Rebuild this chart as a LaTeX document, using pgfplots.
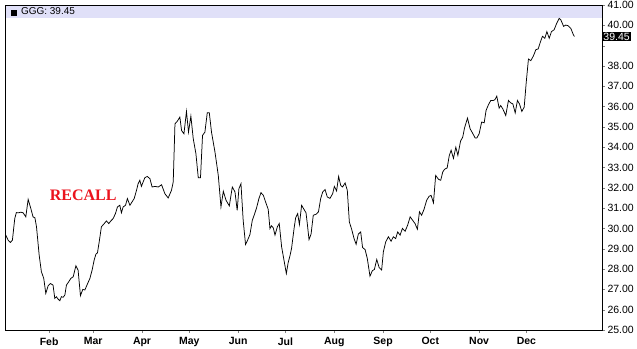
\documentclass[border=0pt]{standalone}
\usepackage{fontspec}
\setmainfont{Liberation Sans}
\newfontfamily\serifbold{Liberation Serif}
\usepackage{pgfplots}
\pgfplotsset{compat=1.18}
\definecolor{band}{RGB}{224,224,248}
\definecolor{recallred}{RGB}{235,20,30}
\begin{document}
\begin{tikzpicture}
\useasboundingbox (0,0) rectangle (637pt,348pt);
\begin{axis}[
  at={(5pt,18pt)}, anchor=south west,
  scale only axis, width=597pt, height=325pt,
  xmin=3, xmax=382, ymin=25, ymax=41,
  axis line style={black, line width=0.8pt},
  tick align=outside, major tick length=3pt,
  xtick pos=bottom, ytick pos=right,
  yticklabel pos=right,
  xtick={31,59,90,120,151,181,212,243,273,304,334},
  xticklabels={Feb,Mar,Apr,May,Jun,Jul,Aug,Sep,Oct,Nov,Dec},
  xticklabel style={font=\fontsize{10.5}{12}\selectfont\bfseries, yshift=-1pt},
  ytick={25,26,...,41},
  yticklabels={25.00,26.00,27.00,28.00,29.00,30.00,31.00,32.00,33.00,34.00,35.00,36.00,37.00,38.00,,40.00,41.00},
  yticklabel style={font=\fontsize{10.5}{12}\selectfont, anchor=west, xshift=-1pt},
  extra y ticks={39.45},
  extra y tick labels={39.45},
  extra y tick style={major tick length=0pt, yticklabel style={fill=black, text=white, inner sep=1.2pt, font=\fontsize{10.5}{12}\selectfont, anchor=west, xshift=1pt}},
  /pgf/number format/assume math mode=true,
  clip=false,
]
\fill[band] (rel axis cs:0,0.9615) rectangle (rel axis cs:1,1);
\draw[black, line width=0.8pt] (rel axis cs:0,0) rectangle (rel axis cs:1,1);
\fill[black] (rel axis cs:0.0095,0.9665) rectangle (rel axis cs:0.0195,0.9850);
\node[anchor=west, inner sep=0pt, font=\fontsize{10}{12}\selectfont] at (rel axis cs:0.0265,0.9800) {GGG: 39.45};
\node[font=\fontsize{16}{18}\serifbold\bfseries, text=recallred, inner sep=0pt] at (axis cs:52.6,31.62) {RECALL};
\addplot[black, line width=0.75pt, mark=none] coordinates {
(3.5,29.67) (5,29.42) (6.4,29.31) (7.7,29.42) (9.2,30.49) (10.2,30.78) (11.7,30.77) (13,30.8) (14.5,30.77) (16.2,30.57)
(17.7,31.43) (19.4,30.98) (20.8,30.57) (22,30.52) (23,30.08) (24.7,28.68) (26.1,27.87) (27.6,27.54) (28.9,26.8) (30.4,27.18)
(31.8,27.29) (33.5,27.21) (34.6,26.56) (35.6,26.64) (36.7,26.52) (37.8,26.44) (38.8,26.64) (39.9,26.61) (41,26.72) (42,27.21)
(43.5,27.38) (44.8,27.54) (46.3,27.62) (48,28.16) (49.4,27.95) (50.9,26.69) (52.4,27.0) (53.7,26.97) (55.3,27.26) (56.9,27.54)
(58.3,27.95) (59.6,28.44) (60.7,28.73) (61.7,28.8) (62.8,29.34) (64.2,30.08) (66,30.24) (67.4,30.37) (68.9,30.24) (70.2,30.37)
(71.7,30.49) (73.1,30.73) (74.4,31.06) (75.9,31.14) (76.9,30.77) (78,31.06) (79.5,31.14) (80.7,31.47) (82.3,31.14) (83.7,31.31)
(85,31.47) (86.5,31.88) (87.5,32.2) (88.6,32.37) (89.6,32.07) (90.7,32.29) (91.8,32.5) (93.3,32.56) (95,32.45) (96.4,32.04)
(98.2,32.07) (100.3,32.04) (102.4,32.15) (104.5,31.71) (106.6,31.5) (108.7,31.88) (109.8,32.29) (110.9,35.15) (112.3,35.27) (114,35.48)
(115.1,34.82) (116.6,34.66) (118.2,35.76) (119.5,34.74) (121,35.53) (122.5,34.42) (124.2,33.68) (125.7,32.49) (127.1,32.49) (128.4,34.58)
(129.9,34.74) (131.4,35.69) (132.7,35.69) (134.1,34.74) (136.3,33.76) (138.4,32.61) (140.1,31.06) (141.6,31.83) (143.3,31.39) (145.4,31.11)
(147.3,32.04) (149,31.8) (150.4,30.89) (151.5,31.96) (152.8,32.2) (154.2,30.4) (155.7,29.21) (157,29.42) (158.5,29.7) (160,30.4)
(161.3,30.68) (162.7,31.01) (164.2,31.47) (165.5,31.76) (167,31.63) (168.4,31.31) (170.1,30.94) (171.2,29.99) (172.2,30.13) (173.3,30.03)
(174.4,29.67) (175.9,30.08) (177.1,30.24) (178.6,29.1) (180.1,28.44) (181.6,27.78) (182.8,28.33) (183.9,28.65) (184.9,29.01) (186.5,29.99)
(187.5,30.52) (188.8,30.73) (189.9,30.19) (191.3,31.14) (192.8,30.94) (194.1,30.77) (194.9,30.24) (196,29.45) (197.3,29.72) (198.7,30.65)
(200.5,30.7) (202,30.82) (203.4,31.47) (204.7,31.8) (206.2,31.91) (207.6,31.55) (209.3,31.48) (211,31.71) (212.1,32.07) (213.5,31.85)
(214.8,32.56) (216.1,32.12) (217.3,32.04) (218.9,32.24) (220.3,31.88) (221.6,30.32) (223.1,29.95) (224.6,29.5) (225.9,29.22) (227.3,29.72)
(228.8,29.83) (230,29.06) (231.6,28.96) (233,28.52) (234.7,27.65) (236.2,27.92) (237.5,27.98) (239,28.47) (240.5,28.08) (242.1,27.95)
(243.2,28.85) (244.7,29.34) (246.4,29.59) (248.1,29.37) (249.5,29.59) (251,29.5) (252.3,29.83) (253.8,29.67) (255.3,30.0) (257,29.86)
(258.6,30.16) (260.2,30.57) (261.8,30.4) (263.3,30.24) (264.8,29.96) (266.1,30.82) (267.5,30.65) (269,30.94) (270.7,31.39) (272.2,31.58)
(273.5,31.63) (275,31.26) (276.4,32.61) (278.2,32.42) (279.6,32.37) (280.9,32.78) (282,32.91) (283.7,32.98) (285,33.57) (286.2,33.85)
(287.7,33.45) (289.2,34.0) (290.5,33.6) (292.2,34.3) (293.6,34.5) (294.7,34.94) (296.6,35.43) (298.3,34.9) (299.7,34.71) (301.5,34.45)
(302.5,34.45) (304,34.66) (305.6,35.24) (307.2,35.2) (308.4,35.81) (309.9,36.09) (311.4,36.3) (313.1,36.3) (314.1,36.35) (315.2,36.51)
(316.7,35.92) (317.7,36.05) (319,35.89) (320.9,35.56) (322.6,36.3) (324.1,36.18) (325.4,36.13) (326.9,35.69) (328.3,36.3) (329.6,36.13)
(331.1,35.76) (332.6,35.97) (333.9,37.2) (335.3,38.34) (336.8,38.26) (338.5,38.5) (340,38.8) (341.5,38.84) (342.8,39.16) (344.2,39.46)
(345.7,39.36) (347,39.69) (348.5,39.36) (349.9,39.69) (351.6,39.78) (353.3,40.11) (354.8,40.34) (355.8,40.28) (357.6,39.95) (359,40.01)
(360.5,39.98) (362.2,39.85) (363.9,39.52) (364.5,39.45)
};
\end{axis}
\end{tikzpicture}
\end{document}
